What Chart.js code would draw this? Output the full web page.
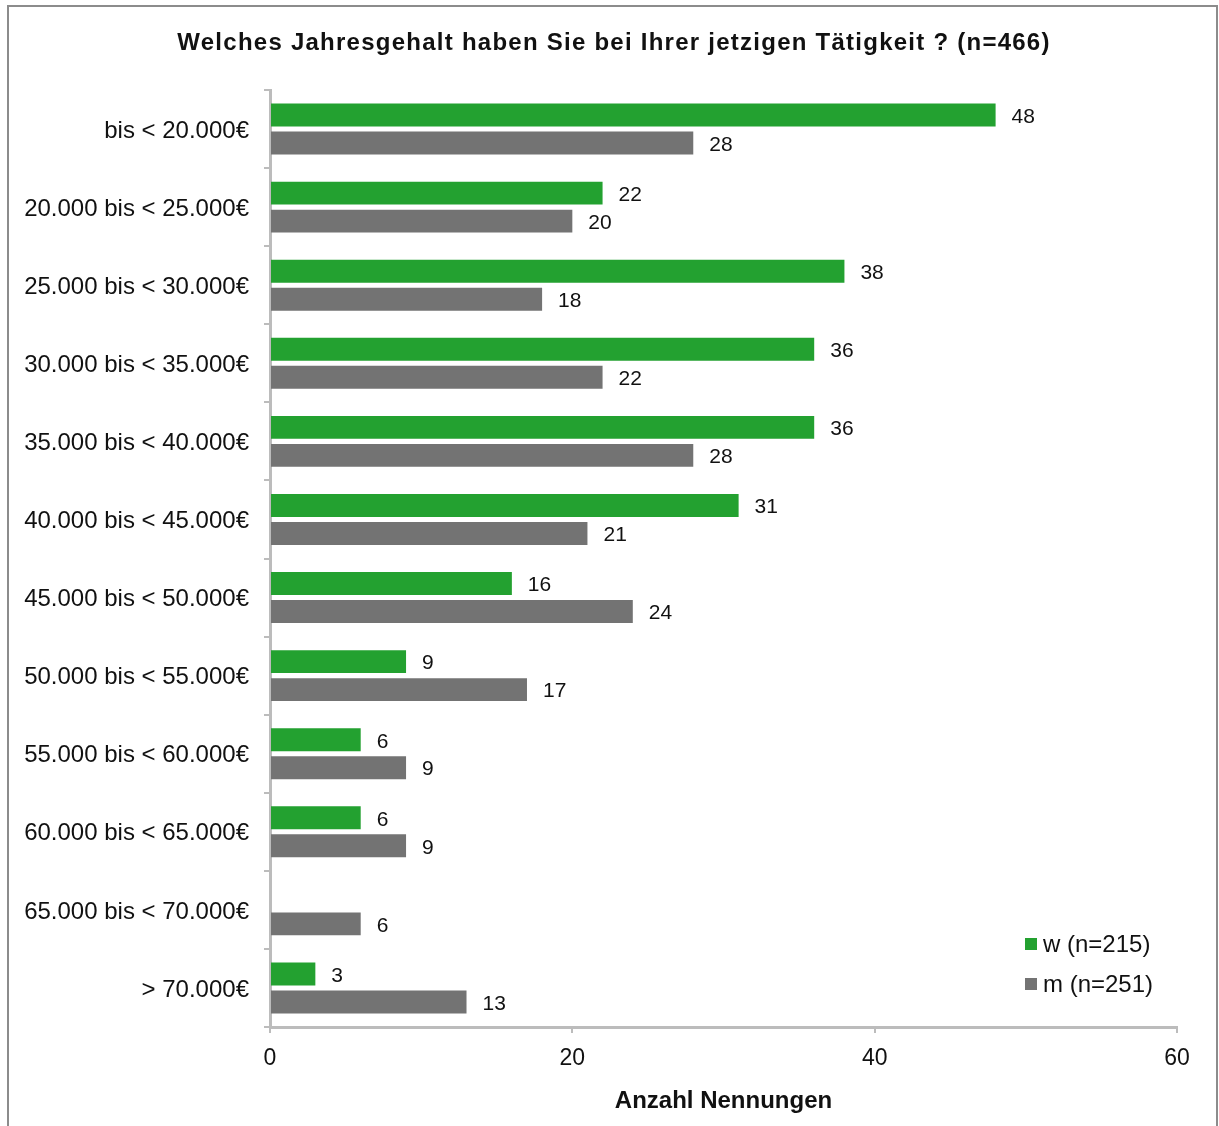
<!DOCTYPE html>
<html>
<head>
<meta charset="utf-8">
<script src="https://cdn.jsdelivr.net/npm/chart.js@4/dist/chart.umd.min.js"></script>
<style>
  body { margin: 0; background: #fff; }
  canvas { display: block; }
</style>
</head>
<body>
<canvas id="salaryChart" width="1219" height="1126"></canvas>
<script>
// Jahresgehalt nach Geschlecht
const categories = [
    'bis < 20.000€', '20.000 bis < 25.000€', '25.000 bis < 30.000€', '30.000 bis < 35.000€',
    '35.000 bis < 40.000€', '40.000 bis < 45.000€', '45.000 bis < 50.000€', '50.000 bis < 55.000€',
    '55.000 bis < 60.000€', '60.000 bis < 65.000€', '65.000 bis < 70.000€', '> 70.000€'
];
const womenValues = [48, 22, 38, 36, 36, 31, 16, 9, 6, 6, null, 3];
const menValues = [28, 20, 18, 22, 28, 21, 24, 17, 9, 9, 6, 13];
const seriesLabels = ['w (n=215)', 'm (n=251)'];
const xTicks = [0, 20, 40, 60];
const chartTitle = 'Welches Jahresgehalt haben Sie bei Ihrer jetzigen Tätigkeit ? (n=466)';

const FONT = "'Liberation Sans', Arial, sans-serif";
const AXIS_COLOR = '#bcbcbc';

// white background, frame and the (slightly spaced) title
const framePlugin = {
    id: 'frame',
    beforeDraw(chart) {
        const c = chart.ctx;
        c.save();
        c.fillStyle = '#fff';
        c.fillRect(0, 0, chart.width, chart.height);
        c.strokeStyle = '#8c8c8c';
        c.lineWidth = 2;
        c.strokeRect(8, 6, 1209, 1200);
        c.fillStyle = '#111';
        c.font = 'bold 24px ' + FONT;
        c.letterSpacing = '1.25px';
        c.textAlign = 'center';
        c.textBaseline = 'middle';
        c.fillText(chartTitle, 614, 43);
        c.restore();
    }
};

// value next to the end of each bar
const valueLabels = {
    id: 'valueLabels',
    afterDatasetsDraw(chart) {
        const c = chart.ctx;
        c.save();
        c.font = '21px ' + FONT;
        c.fillStyle = '#111';
        c.textBaseline = 'middle';
        c.textAlign = 'left';
        chart.data.datasets.forEach((ds, i) => {
            chart.getDatasetMeta(i).data.forEach((bar, j) => {
                const v = ds.data[j];
                if (v === null || v === undefined) return;
                c.fillText(String(v), bar.x + 16, bar.y + 2);
            });
        });
        c.restore();
    }
};

// legend inside the lower right corner of the plot
const cornerLegend = {
    id: 'cornerLegend',
    afterDraw(chart) {
        const c = chart.ctx;
        const area = chart.chartArea;
        c.save();
        c.font = '24px ' + FONT;
        c.textBaseline = 'middle';
        chart.data.datasets.forEach((ds, i) => {
            const y = area.bottom - 83 + i * 40;
            const x = area.right - 152;
            c.fillStyle = ds.backgroundColor;
            c.fillRect(x, y - 6, 12, 12);
            c.fillStyle = '#111';
            c.fillText(ds.label, x + 18, y + 1);
        });
        c.restore();
    }
};

new Chart(document.getElementById('salaryChart'), {
    type: 'bar',
    data: {
        labels: categories,
        datasets: [
            {
                label: seriesLabels[0],
                data: womenValues,
                backgroundColor: '#23a130',
                categoryPercentage: 0.716,
                barPercentage: 0.82
            },
            {
                label: seriesLabels[1],
                data: menValues,
                backgroundColor: '#737373',
                categoryPercentage: 0.716,
                barPercentage: 0.82
            }
        ]
    },
    options: {
        indexAxis: 'y',
        responsive: false,
        animation: false,
        layout: {
            padding: { left: 0, right: 42, top: 90, bottom: 0 }
        },
        plugins: {
            legend: { display: false },
            tooltip: { enabled: false },
            title: { display: false }
        },
        scales: {
            x: {
                min: 0,
                max: 60,
                afterFit(scale) { scale.height = 99; },
                afterBuildTicks(scale) {
                    scale.ticks = xTicks.map(v => ({ value: v }));
                },
                grid: {
                    drawOnChartArea: false,
                    color: AXIS_COLOR,
                    lineWidth: 2,
                    tickLength: 6
                },
                border: { color: AXIS_COLOR, width: 3 },
                ticks: {
                    color: '#111',
                    padding: 12,
                    font: { family: FONT, size: 23 }
                },
                title: {
                    display: true,
                    text: 'Anzahl Nennungen',
                    color: '#111',
                    font: { family: FONT, size: 24, weight: 'bold' },
                    padding: { top: 0, bottom: 10 }
                }
            },
            y: {
                afterFit(scale) { scale.width = 270; },
                grid: {
                    offset: true,
                    drawOnChartArea: false,
                    color: AXIS_COLOR,
                    lineWidth: 2,
                    tickLength: 6
                },
                border: { color: AXIS_COLOR, width: 3 },
                ticks: {
                    color: '#111',
                    padding: 15,
                    labelOffset: 2,
                    autoSkip: false,
                    font: { family: FONT, size: 24 }
                }
            }
        }
    },
    plugins: [framePlugin, valueLabels, cornerLegend]
});
</script>
</body>
</html>
